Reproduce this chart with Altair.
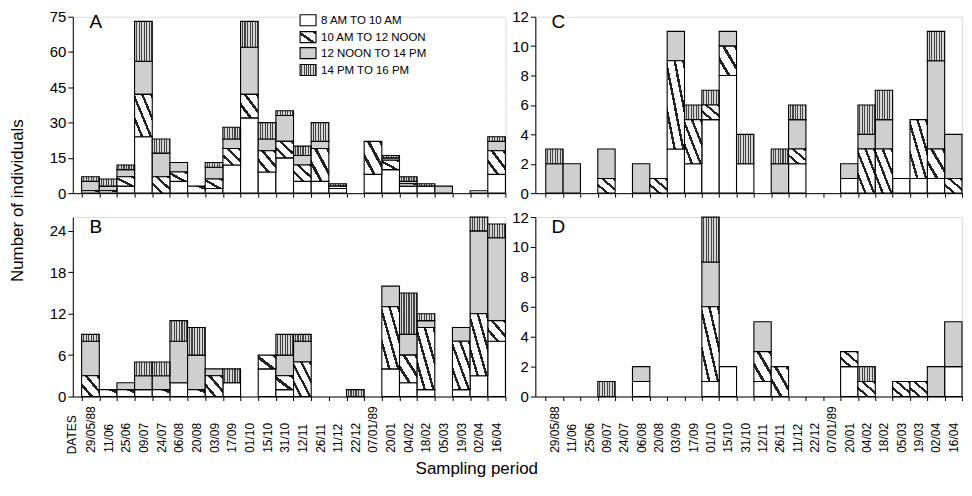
import math
import altair as alt
import pandas as pd

FONT = "Liberation Sans"

dates = ["29/05/88", "11/06", "25/06", "09/07", "24/07", "06/08", "20/08", "03/09",
         "17/09", "01/10", "15/10", "31/10", "12/11", "26/11", "11/12", "22/12",
         "07/01/89", "20/01", "04/02", "18/02", "05/03", "19/03", "02/04", "16/04"]
periods = ["8 AM TO 10 AM", "10 AM TO 12 NOON", "12 NOON TO 14 PM", "14 PM TO 16 PM"]

# Panel A
a_w = [0, 0, 3, 24, 0, 5, 0, 2, 12, 32, 9, 15, 5, 5, 2, 0, 8, 10, 3, 3, 0, 0, 1, 8]
a_h = [1, 1, 4, 18, 7, 4, 3, 4, 7, 10, 9, 7, 7, 14, 1, 0, 14, 4, 1, 0, 0, 0, 0, 10]
a_s = [4, 2, 3, 14, 10, 4, 0, 5, 4, 20, 5, 11, 4, 3, 0, 0, 0, 1, 1, 0, 3, 0, 0, 4]
a_v = [2, 3, 2, 17, 6, 0, 0, 2, 5, 11, 7, 2, 4, 8, 1, 0, 0, 1, 2, 1, 0, 0, 0, 2]
# Panel B
b_w = [0, 0, 0, 1, 0, 2, 0, 0, 2, 0, 4, 1, 0, 0, 0, 0, 0, 4, 2, 1, 0, 1, 3, 8]
b_h = [3, 1, 1, 0, 1, 0, 1, 3, 0, 0, 2, 2, 5, 0, 0, 0, 0, 9, 4, 9, 0, 7, 9, 3]
b_s = [5, 0, 1, 2, 2, 6, 5, 1, 0, 0, 0, 3, 3, 0, 0, 0, 0, 3, 3, 1, 0, 2, 12, 12]
b_v = [1, 0, 0, 2, 2, 3, 4, 0, 2, 0, 0, 3, 1, 0, 0, 1, 0, 0, 6, 1, 0, 0, 2, 2]
# Panel C
c_w = [0, 0, 0, 0, 0, 0, 0, 3, 2, 5, 8, 2, 0, 0, 2, 0, 0, 1, 0, 0, 1, 1, 1, 0]
c_h = [0, 0, 0, 1, 0, 0, 1, 6, 3, 1, 2, 0, 0, 0, 1, 0, 0, 0, 3, 3, 0, 4, 2, 1]
c_s = [2, 2, 0, 2, 0, 2, 0, 2, 0, 0, 1, 0, 0, 2, 2, 0, 0, 1, 1, 2, 0, 0, 6, 3]
c_v = [1, 0, 0, 0, 0, 0, 0, 0, 1, 1, 0, 2, 0, 1, 1, 0, 0, 0, 2, 2, 0, 0, 2, 0]
# Panel D
d_w = [0, 0, 0, 0, 0, 1, 0, 0, 0, 1, 2, 0, 1, 0, 0, 0, 0, 2, 0, 0, 0, 0, 0, 2]
d_h = [0, 0, 0, 0, 0, 0, 0, 0, 0, 5, 0, 0, 2, 2, 0, 0, 0, 1, 1, 0, 1, 1, 0, 0]
d_s = [0, 0, 0, 0, 0, 1, 0, 0, 0, 3, 0, 0, 2, 0, 0, 0, 0, 0, 0, 0, 0, 0, 2, 3]
d_v = [0, 0, 0, 1, 0, 0, 0, 0, 0, 3, 0, 0, 0, 0, 0, 0, 0, 0, 1, 0, 0, 0, 0, 0]


def stripes(n, bg, line, frac, x1, y1, x2, y2):
    stops = []
    for k in range(n):
        o0, o1, o2 = k / n, (k + frac) / n, (k + 1) / n
        stops += [alt.GradientStop(color=bg, offset=o0),
                  alt.GradientStop(color=bg, offset=o1),
                  alt.GradientStop(color=line, offset=o1),
                  alt.GradientStop(color=line, offset=o2)]
    return alt.LinearGradient(gradient="linear", stops=stops, x1=x1, y1=y1, x2=x2, y2=y2)


def hatch(n):
    return stripes(n, "white", "#222222", 0.72, 0, 1, 1, 0)


STIPPLE = "#cfcfcf"
VERT = stripes(7, "#d6d6d6", "#444444", 0.55, 0, 0, 1, 0)
legend_fills = ["white", hatch(2), STIPPLE, VERT]


def panel(arrs, letter, ymax, yticks, width, height, show_labels,
          ytitle=False, legend=False, dates_label=False, pad_outer=0.25, letter_y=10):
    step = width / (len(dates) + 2 * pad_outer)
    rows = []
    for i, d in enumerate(dates):
        for k, (p, arr) in enumerate(zip(periods, arrs)):
            hpx = arr[i] * height / ymax
            diag = step * hpx / math.sqrt(step ** 2 + hpx ** 2) if hpx > 0 else 0
            nh = int(min(4, max(1, round(diag / 4.5))))
            rows.append({"date": d, "period": p, "order": k, "value": arr[i], "nh": nh})
    df = pd.DataFrame(rows)

    xscale = alt.Scale(domain=dates, paddingInner=0, paddingOuter=pad_outer, align=1)
    yscale = alt.Scale(domain=[0, ymax], nice=False, zero=True)
    xaxis = alt.Axis(title=None, labels=show_labels, labelAngle=270, labelAlign="left",
                     labelBaseline="middle", labelPadding=52, labelFontSize=12,
                     labelFont=FONT, labelColor="black", tickBand="extent", tickSize=4,
                     tickColor="black", domainColor="black", grid=False)
    yargs = dict(values=yticks, labelFontSize=15, labelFont=FONT, labelColor="black",
                 tickSize=5, tickColor="black", domainColor="black", grid=False,
                 labelPadding=2)
    if ytitle:
        yargs.update(title="Number of individuals", titleFontSize=17, titleFont=FONT,
                     titleFontWeight="normal", titleColor="black", titleX=-46,
                     titleY=height + 7)
    else:
        yargs.update(title=None)
    yaxis = alt.Axis(**yargs)

    base = alt.Chart(df).transform_stack(
        stack="value", groupby=["date"], as_=["y0", "y1"],
        sort=[alt.SortField("order", "ascending")])
    enc = dict(x=alt.X("date:N", scale=xscale, axis=xaxis, sort=dates),
               y=alt.Y("y0:Q", scale=yscale, axis=yaxis), y2="y1:Q")

    layers = []
    specs = [(0, None, "white"), (2, None, STIPPLE), (3, None, VERT)]
    for nh in [1, 2, 3, 4]:
        specs.append((1, nh, hatch(nh)))
    for k, nh, fill in specs:
        cond = f"datum.order == {k} && datum.value > 0"
        if nh is not None:
            cond += f" && datum.nh == {nh}"
        layers.append(base.transform_filter(cond).mark_bar(
            fill=fill, stroke="black", strokeWidth=1.1).encode(**enc))

    lab = alt.Chart(pd.DataFrame({"t": [letter]})).mark_text(
        font=FONT, fontSize=19, align="center", baseline="middle", color="black"
    ).encode(text="t:N", x=alt.value(23), y=alt.value(letter_y))
    layers.append(lab)

    if dates_label:
        layers.append(alt.Chart(pd.DataFrame({"t": ["DATES"]})).mark_text(
            font=FONT, fontSize=12, angle=270, align="left", baseline="middle", color="black"
        ).encode(text="t:N", x=alt.value(-1), y=alt.value(height + 58)))

    if legend:
        ys = [-2, 15, 31, 48]
        for k in range(4):
            layers.append(alt.Chart(pd.DataFrame({"t": [periods[k]]})).mark_rect(
                fill=legend_fills[k], stroke="black", strokeWidth=1.1
            ).encode(x=alt.value(228), x2=alt.value(244),
                     y=alt.value(ys[k]), y2=alt.value(ys[k] + 11)))
        leg = pd.DataFrame({"t": periods, "yy": [y + 6 for y in ys]})
        layers.append(alt.Chart(leg).mark_text(
            font=FONT, fontSize=11.5, align="left", baseline="middle", color="black"
        ).encode(text="t:N", x=alt.value(249), y=alt.Y("yy:Q", scale=None)))

    return alt.layer(*layers).properties(width=width, height=height)


A = panel([a_w, a_h, a_s, a_v], "A", 75, [0, 15, 30, 45, 60, 75], 434, 177, False,
          ytitle=True, legend=True, letter_y=5)
C = panel([c_w, c_h, c_s, c_v], "C", 12, [0, 2, 4, 6, 8, 10, 12], 428, 177, False,
          pad_outer=0.3, letter_y=5)
B = panel([b_w, b_h, b_s, b_v], "B", 26, [0, 6, 12, 18, 24], 434, 180, True,
          dates_label=True)
D = panel([d_w, d_h, d_s, d_v], "D", 12, [0, 2, 4, 6, 8, 10, 12], 428, 180, True,
          pad_outer=0.3)

chart = alt.concat(A, C, B, D, columns=2, spacing={"row": 24, "column": 30},
                   bounds="flush").properties(
    title=alt.Title("Sampling period", orient="bottom", anchor="middle", fontSize=17,
                    font=FONT, fontWeight="normal", color="black", dx=-9, offset=6),
    padding={"left": 0, "top": 0, "right": 0, "bottom": 0},
).configure_view(stroke=None).configure(background="white")

chart.save("out.html", embed_options={"renderer": "svg", "actions": False})
